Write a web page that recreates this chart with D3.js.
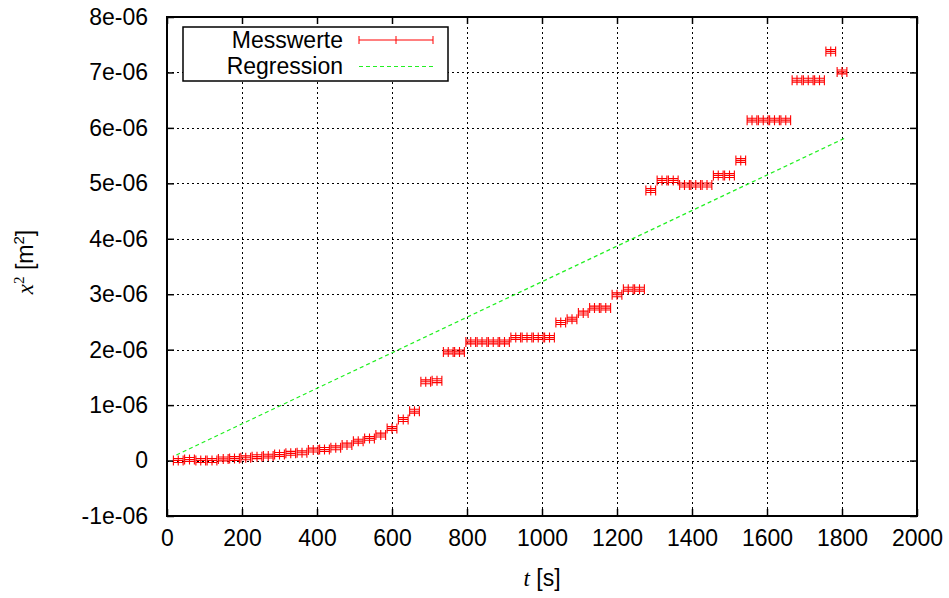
<!DOCTYPE html>
<html>
<head>
<meta charset="utf-8">
<script src="https://cdn.jsdelivr.net/npm/d3@7"></script>
<style>
  html, body { margin: 0; padding: 0; background: #fff; }
  svg { display: block; }
  .tick text { font-family: "Liberation Sans", Arial, sans-serif; font-size: 23px; fill: #000; }
</style>
</head>
<body>
<svg id="chart" width="949" height="598"></svg>
<script>
// Measurement times t [s]
const times = [30, 60, 90, 120, 150, 180, 210, 240, 270, 300,
               330, 360, 390, 420, 450, 480, 510, 540, 570, 600,
               630, 660, 690, 720, 750, 780, 810, 840, 870, 900,
               930, 960, 990, 1020, 1050, 1080, 1110, 1140, 1170, 1200,
               1230, 1260, 1290, 1320, 1350, 1380, 1410, 1440, 1470, 1500,
               1530, 1560, 1590, 1620, 1650, 1680, 1710, 1740, 1770, 1800];
// Mean square displacement x^2 [m^2], in units of 1e-6
const msd = [0.00, 0.02, 0.00, 0.00, 0.03, 0.035, 0.05, 0.07, 0.08, 0.11,
             0.13, 0.14, 0.19, 0.20, 0.23, 0.28, 0.35, 0.40, 0.46, 0.58,
             0.74, 0.89, 1.42, 1.44, 1.96, 1.96, 2.14, 2.14, 2.14, 2.14,
             2.22, 2.22, 2.22, 2.22, 2.49, 2.55, 2.66, 2.75, 2.75, 2.99,
             3.09, 3.09, 4.87, 5.05, 5.05, 4.97, 4.97, 4.97, 5.14, 5.14,
             5.41, 6.14, 6.14, 6.14, 6.14, 6.86, 6.86, 6.86, 7.38, 7.01];
// Uncertainties of each measurement
const tErr = 13;        // s
const msdErr = 0.035;   // 1e-6 m^2
// Linear regression line, endpoints
const regT = [25, 1812];
const regMsd = [0.10, 5.83];

const xTicks = [0, 200, 400, 600, 800, 1000, 1200, 1400, 1600, 1800, 2000];
const yTicks = [-1, 0, 1, 2, 3, 4, 5, 6, 7, 8];
const yTickLabels = ["-1e-06", "0", "1e-06", "2e-06", "3e-06", "4e-06", "5e-06", "6e-06", "7e-06", "8e-06"];

const svg = d3.select("#chart");
const pL = 167, pR = 917, pT = 17, pB = 516;

const x = d3.scaleLinear().domain([0, 2000]).range([pL, pR]);
const y = d3.scaleLinear().domain([-1, 8]).range([pB, pT]);

// Dotted grid
const grid = svg.append("g").attr("stroke", "#000").attr("stroke-width", 1)
  .attr("stroke-dasharray", "2,3").attr("shape-rendering", "crispEdges");
grid.selectAll("line.gx").data(xTicks.slice(1, -1)).join("line")
  .attr("x1", d => Math.round(x(d)) + 0.5).attr("x2", d => Math.round(x(d)) + 0.5)
  .attr("y1", pT).attr("y2", pB);
grid.selectAll("line.gy").data(yTicks.slice(1, -1)).join("line")
  .attr("y1", d => Math.round(y(d)) + 0.5).attr("y2", d => Math.round(y(d)) + 0.5)
  .attr("x1", pL).attr("x2", pR);

// Axes (ticks drawn inward)
const xAxis = d3.axisBottom(x).tickValues(xTicks).tickSize(-7).tickPadding(14).tickFormat(d3.format("d"));
const gx = svg.append("g").attr("transform", `translate(0,${pB})`).call(xAxis);
const yAxis = d3.axisLeft(y).tickValues(yTicks).tickSize(-7).tickPadding(19)
  .tickFormat((d, i) => yTickLabels[i]);
const gy = svg.append("g").attr("transform", `translate(${pL},0)`).call(yAxis);
// mirrored ticks on top and right
const gx2 = svg.append("g").attr("transform", `translate(0,${pT})`)
  .call(d3.axisTop(x).tickValues(xTicks).tickSize(-7).tickFormat(""));
const gy2 = svg.append("g").attr("transform", `translate(${pR},0)`)
  .call(d3.axisRight(y).tickValues(yTicks).tickSize(-7).tickFormat(""));
[gx, gy, gx2, gy2].forEach(g => {
  g.select(".domain").remove();
  g.selectAll(".tick line").attr("stroke", "#000").attr("stroke-width", 1.5);
});

// Regression line
svg.append("line")
  .attr("x1", x(regT[0])).attr("y1", y(regMsd[0]))
  .attr("x2", x(regT[1])).attr("y2", y(regMsd[1]))
  .attr("stroke", "#22f022").attr("stroke-width", 1.2)
  .attr("stroke-dasharray", "4,3");

// Measurements with x/y error bars
const cap = 5;
const pts = svg.append("g").attr("stroke", "#ff0000").attr("stroke-width", 1.1).attr("fill", "none");
const data = times.map((t, i) => ({ t, v: msd[i] }));
const mk = pts.selectAll("g").data(data).join("g");
mk.append("path").attr("d", d => {
  const cx = x(d.t), cy = y(d.v);
  const x0 = x(d.t - tErr), x1 = x(d.t + tErr);
  const y0 = y(d.v - msdErr), y1 = y(d.v + msdErr);
  return `M${x0},${cy}H${x1}` +
         `M${x0},${cy - cap}V${cy + cap}M${x1},${cy - cap}V${cy + cap}` +
         `M${cx},${cy - cap}V${cy + cap}` +
         `M${x0},${y0}H${x1}M${x0},${y1}H${x1}`;
});

// Frame
svg.append("rect").attr("x", pL).attr("y", pT)
  .attr("width", pR - pL).attr("height", pB - pT)
  .attr("fill", "none").attr("stroke", "#000").attr("stroke-width", 2);

// Legend
const lg = svg.append("g");
const lgFamily = "Liberation Sans, Arial, sans-serif";
lg.append("rect").attr("x", 183).attr("y", 27).attr("width", 265).attr("height", 54)
  .attr("fill", "#fff").attr("stroke", "#000").attr("stroke-width", 1.5);
lg.append("text").attr("x", 343).attr("y", 48).attr("text-anchor", "end")
  .attr("font-family", lgFamily).attr("font-size", "23px").text("Messwerte");
lg.append("text").attr("x", 343).attr("y", 74).attr("text-anchor", "end")
  .attr("font-family", lgFamily).attr("font-size", "23px").text("Regression");
lg.append("path").attr("d", "M359,40H433M359,36V44M433,36V44M396,36V44")
  .attr("stroke", "#ff0000").attr("stroke-width", 1).attr("fill", "none");
lg.append("line").attr("x1", 359).attr("x2", 433).attr("y1", 66.5).attr("y2", 66.5)
  .attr("stroke", "#22f022").attr("stroke-width", 1.2).attr("stroke-dasharray", "4,3");

// Axis titles
const xt = svg.append("text").attr("x", 542).attr("y", 586).attr("text-anchor", "middle")
  .attr("font-family", lgFamily).attr("font-size", "23px");
xt.append("tspan").attr("font-family", "Liberation Serif, serif").attr("font-style", "italic").text("t");
xt.append("tspan").text(" [s]");

const yt = svg.append("text").attr("transform", "translate(33,262) rotate(-90)")
  .attr("text-anchor", "middle")
  .attr("font-family", lgFamily).attr("font-size", "23px");
yt.append("tspan").attr("font-family", "Liberation Serif, serif").attr("font-style", "italic").text("x");
yt.append("tspan").attr("font-size", "15px").attr("dy", "-9").attr("font-family", "Liberation Serif, serif").text("2");
yt.append("tspan").attr("dy", "9").text(" [m");
yt.append("tspan").attr("font-size", "15px").attr("dy", "-9").text("2");
yt.append("tspan").attr("dy", "9").text("]");
</script>
</body>
</html>
